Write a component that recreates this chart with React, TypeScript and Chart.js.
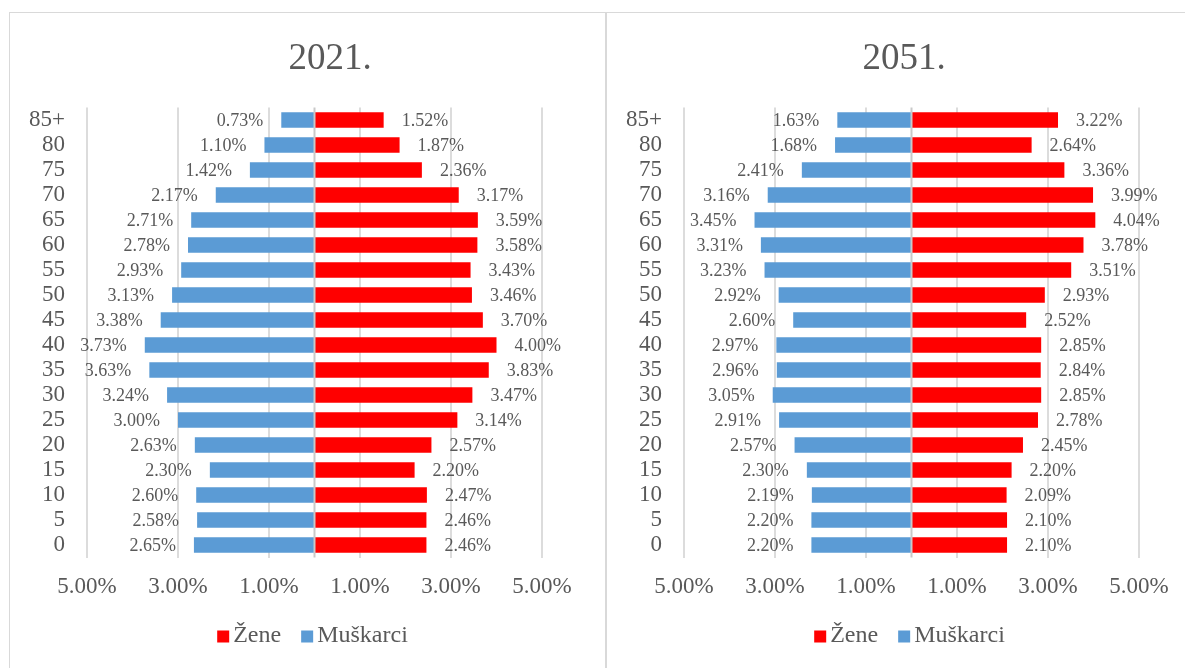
import React, { useEffect, useRef } from 'react';
import { Chart, registerables } from 'chart.js';

Chart.register(...registerables);

const AGE_GROUPS = ['85+', '80', '75', '70', '65', '60', '55', '50', '45', '40', '35', '30', '25', '20', '15', '10', '5', '0'];
const WOMEN_2021 = [1.52, 1.87, 2.36, 3.17, 3.59, 3.58, 3.43, 3.46, 3.7, 4.0, 3.83, 3.47, 3.14, 2.57, 2.2, 2.47, 2.46, 2.46];
const MEN_2021 = [0.73, 1.1, 1.42, 2.17, 2.71, 2.78, 2.93, 3.13, 3.38, 3.73, 3.63, 3.24, 3.0, 2.63, 2.3, 2.6, 2.58, 2.65];
const WOMEN_2051 = [3.22, 2.64, 3.36, 3.99, 4.04, 3.78, 3.51, 2.93, 2.52, 2.85, 2.84, 2.85, 2.78, 2.45, 2.2, 2.09, 2.1, 2.1];
const MEN_2051 = [1.63, 1.68, 2.41, 3.16, 3.45, 3.31, 3.23, 2.92, 2.6, 2.97, 2.96, 3.05, 2.91, 2.57, 2.3, 2.19, 2.2, 2.2];
const X_TICKS = [-5, -3, -1, 1, 3, 5];
const SERIES_NAMES = ['Žene', 'Muškarci'];
const SERIES_COLORS = ['#FF0000', '#5B9BD5'];
const PANEL_TITLES = ['2021.', '2051.'];

const FONT = "'Liberation Serif', 'Times New Roman', serif";
const TEXT = '#595959';
const CANVAS_W = 595;
const CANVAS_H = 655;

const fmt = (v: number) => Math.abs(v).toFixed(2) + '%';

const zeroLinePlugin = {
  id: 'zeroLine',
  afterDatasetsDraw(chart: any) {
    const { ctx, chartArea } = chart;
    const x = chart.scales.x.getPixelForValue(0);
    ctx.save();
    ctx.strokeStyle = '#c9c9c9';
    ctx.lineWidth = 2;
    ctx.beginPath();
    ctx.moveTo(x, chartArea.top);
    ctx.lineTo(x, chartArea.bottom);
    ctx.stroke();
    ctx.restore();
  },
};

const dataLabelPlugin = {
  id: 'dataLabels',
  afterDatasetsDraw(chart: any) {
    const ctx = chart.ctx;
    ctx.save();
    ctx.font = `18px ${FONT}`;
    ctx.fillStyle = TEXT;
    ctx.textBaseline = 'middle';
    chart.data.datasets.forEach((ds: any, i: number) => {
      const meta = chart.getDatasetMeta(i);
      meta.data.forEach((el: any, j: number) => {
        const v = ds.data[j] as number;
        const txt = fmt(v);
        if (v < 0) {
          ctx.textAlign = 'right';
          ctx.fillText(txt, el.x - 18, el.y + 1);
        } else {
          ctx.textAlign = 'left';
          ctx.fillText(txt, el.x + 18, el.y + 1);
        }
      });
    });
    ctx.restore();
  },
};

const legendPlugin = {
  id: 'customLegend',
  afterDraw(chart: any) {
    const { ctx, chartArea } = chart;
    ctx.save();
    ctx.font = `24px ${FONT}`;
    ctx.textBaseline = 'middle';
    ctx.textAlign = 'left';
    const box = 12;
    const gap = 4;
    const between = 20;
    const items = chart.data.datasets.map((ds: any) => ({
      text: ds.label,
      color: ds.backgroundColor,
      w: box + gap + ctx.measureText(ds.label).width,
    }));
    const total = items.reduce((s: number, it: any) => s + it.w, 0) + between * (items.length - 1);
    let x = (chartArea.left + chartArea.right) / 2 - 2 - total / 2;
    const y = chartArea.bottom + 78;
    items.forEach((it: any) => {
      ctx.fillStyle = it.color;
      ctx.fillRect(x, y - box / 2 + 1, box, box);
      ctx.fillStyle = TEXT;
      ctx.fillText(it.text, x + box + gap, y);
      x += it.w + between;
    });
    ctx.restore();
  },
};

function makeTitlePlugin(text: string, centerX: number) {
  return {
    id: 'panelTitle',
    afterDraw(chart: any) {
      const { ctx } = chart;
      ctx.save();
      ctx.font = `37px ${FONT}`;
      ctx.fillStyle = TEXT;
      ctx.textAlign = 'center';
      ctx.textBaseline = 'middle';
      ctx.fillText(text, centerX, 46);
      ctx.restore();
    },
  };
}

function Panel({ title, women, men, left, titleX }: { title: string; women: number[]; men: number[]; left: number; titleX: number }) {
  const ref = useRef<HTMLCanvasElement | null>(null);

  useEffect(() => {
    if (!ref.current) return;
    const chart = new Chart(ref.current, {
      type: 'bar',
      data: {
        labels: AGE_GROUPS,
        datasets: [
          {
            label: SERIES_NAMES[0],
            data: women,
            backgroundColor: SERIES_COLORS[0],
            barPercentage: 0.62,
            categoryPercentage: 1,
          },
          {
            label: SERIES_NAMES[1],
            data: men.map((v) => -v),
            backgroundColor: SERIES_COLORS[1],
            barPercentage: 0.62,
            categoryPercentage: 1,
          },
        ],
      },
      options: {
        indexAxis: 'y',
        animation: false,
        responsive: false,
        devicePixelRatio: 1,
        layout: { padding: { left: 0, right: 63, top: 94.5, bottom: 60.5 } },
        plugins: {
          legend: { display: false },
          tooltip: { enabled: false },
          title: { display: false },
        },
        scales: {
          x: {
            type: 'linear',
            min: -5,
            max: 5,
            stacked: true,
            afterBuildTicks: (axis: any) => {
              axis.ticks = X_TICKS.map((v) => ({ value: v }));
            },
            afterFit: (s: any) => {
              s.height = 50;
            },
            ticks: {
              callback: (v: any) => fmt(Number(v)),
              font: { family: FONT, size: 23 },
              color: TEXT,
              padding: 16,
              maxRotation: 0,
              autoSkip: false,
            },
            grid: { color: '#dcdcdc', lineWidth: 2, drawTicks: false },
            border: { display: false },
          },
          y: {
            type: 'category',
            stacked: true,
            afterFit: (s: any) => {
              s.width = 77;
            },
            grid: { display: false, drawTicks: false },
            border: { display: false },
            ticks: {
              font: { family: FONT, size: 23 },
              color: TEXT,
              padding: 22,
              autoSkip: false,
            },
          },
        },
      } as any,
      plugins: [zeroLinePlugin, dataLabelPlugin, legendPlugin, makeTitlePlugin(title, titleX)],
    });
    return () => chart.destroy();
  }, [title, women, men, titleX]);

  return (
    <div
      style={{
        position: 'absolute',
        left,
        top: 12,
        width: 597,
        height: 657,
        boxSizing: 'border-box',
        border: '1px solid #d9d9d9',
        background: '#fff',
      }}
    >
      <canvas ref={ref} width={CANVAS_W} height={CANVAS_H} style={{ display: 'block', width: CANVAS_W, height: CANVAS_H }} />
    </div>
  );
}

export default function App() {
  return (
    <div style={{ position: 'fixed', left: 0, top: 0, width: '100vw', height: '100vh', overflow: 'hidden', background: '#fff' }}>
      <Panel title={PANEL_TITLES[0]} women={WOMEN_2021} men={MEN_2021} left={9} titleX={320} />
      <Panel title={PANEL_TITLES[1]} women={WOMEN_2051} men={MEN_2051} left={606} titleX={297} />
    </div>
  );
}
